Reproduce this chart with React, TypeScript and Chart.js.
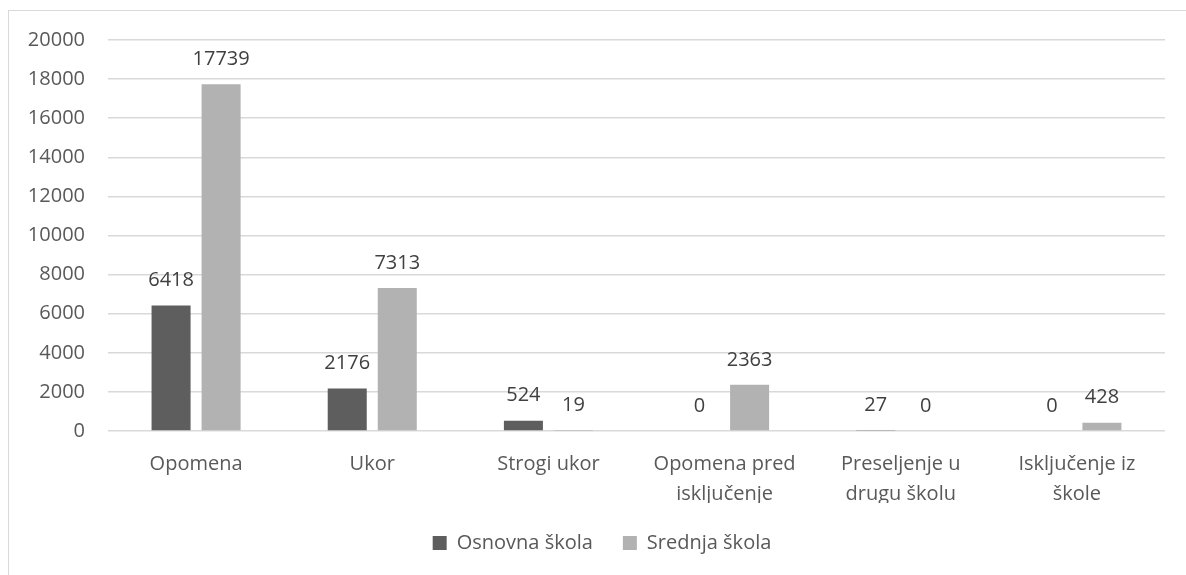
import React, { useEffect, useRef } from "react";
import { Chart, registerables } from "chart.js";

Chart.register(...registerables);

const categories: string[][] = [
  ["Opomena"],
  ["Ukor"],
  ["Strogi ukor"],
  ["Opomena pred", "isključenje"],
  ["Preseljenje u", "drugu školu"],
  ["Isključenje iz", "škole"],
];
const osnovna: number[] = [6418, 2176, 524, 0, 27, 0];
const srednja: number[] = [17739, 7313, 19, 2363, 0, 428];
const seriesNames: string[] = ["Osnovna škola", "Srednja škola"];
const yTicks: number[] = [0, 2000, 4000, 6000, 8000, 10000, 12000, 14000, 16000, 18000, 20000];

const FONT = "'Open Sans', 'Noto Sans', sans-serif";

const dataLabels = {
  id: "dataLabels",
  afterDatasetsDraw(chart: any) {
    const ctx = chart.ctx;
    ctx.save();
    ctx.font = `20px ${FONT}`;
    ctx.fillStyle = "#404040";
    ctx.textAlign = "center";
    ctx.textBaseline = "middle";
    chart.data.datasets.forEach((ds: any, i: number) => {
      const meta = chart.getDatasetMeta(i);
      meta.data.forEach((el: any, j: number) => {
        ctx.fillText(String(ds.data[j]), el.x, el.y - 25);
      });
    });
    ctx.restore();
  },
};

const legendShift = {
  id: "legendShift",
  afterLayout(chart: any) {
    if (chart.legend) {
      chart.legend.left += 15;
      chart.legend.right += 15;
    }
  },
};

export default function App() {
  const ref = useRef<HTMLCanvasElement | null>(null);
  useEffect(() => {
    if (!ref.current) return;
    const chart = new Chart(ref.current, {
      type: "bar",
      data: {
        labels: categories,
        datasets: [
          {
            label: seriesNames[0],
            data: osnovna,
            backgroundColor: "#5e5e5e",
            categoryPercentage: 0.568,
            barPercentage: 0.78,
          },
          {
            label: seriesNames[1],
            data: srednja,
            backgroundColor: "#b2b2b2",
            categoryPercentage: 0.568,
            barPercentage: 0.78,
          },
        ],
      },
      options: {
        responsive: false,
        animation: false,
        layout: { padding: { top: 29, right: 21, left: 0, bottom: 12 } },
        plugins: {
          legend: {
            position: "bottom",
            labels: {
              boxWidth: 14,
              boxHeight: 14,
              color: "#595959",
              padding: 30,
              font: { family: FONT, size: 20 },
            },
          },
          tooltip: { enabled: false },
        },
        scales: {
          x: {
            grid: { display: false, drawTicks: false },
            border: { display: false },
            ticks: {
              color: "#595959",
              padding: 18,
              maxRotation: 0,
              autoSkip: false,
              font: { family: FONT, size: 20, lineHeight: 1.5 },
            },
            afterFit(scale: any) {
              scale.height = 72;
            },
          },
          y: {
            min: 0,
            max: 20000,
            afterBuildTicks(scale: any) {
              scale.ticks = yTicks.map((v) => ({ value: v }));
            },
            grid: {
              color: "#d9d9d9",
              lineWidth: 1.5,
              drawTicks: true,
              tickLength: 17,
              tickColor: "rgba(0,0,0,0)",
            },
            border: { display: false },
            ticks: {
              color: "#595959",
              padding: 6,
              font: { family: FONT, size: 20 },
              callback: (v: any) => String(v),
            },
            afterFit(scale: any) {
              scale.width = 99;
            },
          },
        },
      },
      plugins: [dataLabels, legendShift],
    });
    return () => chart.destroy();
  }, []);
  return (
    <div
      style={{
        position: "fixed",
        left: 8,
        top: 10,
        width: 1178,
        height: 565,
        borderLeft: "1px solid #d9d9d9",
        borderTop: "1px solid #d9d9d9",
        background: "#fff",
      }}
    >
      <canvas ref={ref} width={1177} height={564} style={{ display: "block" }} />
    </div>
  );
}
